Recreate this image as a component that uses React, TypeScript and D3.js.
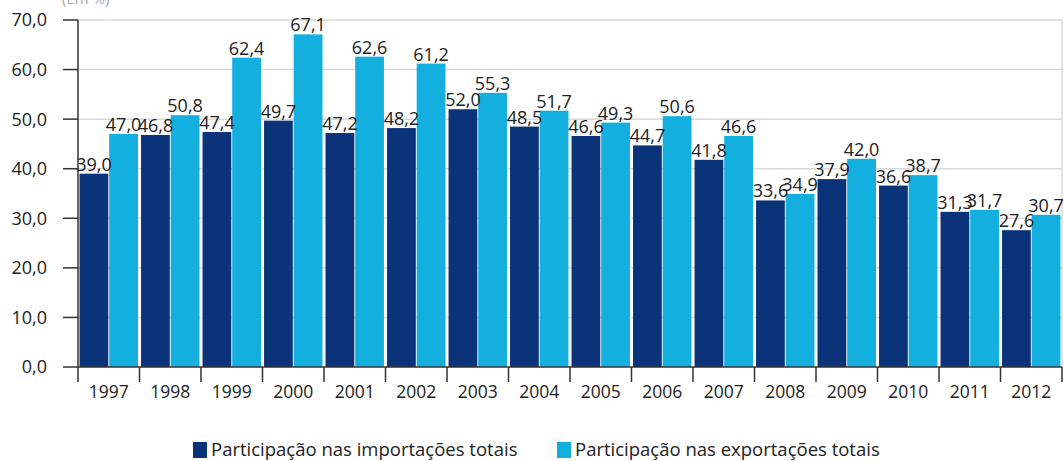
import React from "react";
import * as d3 from "d3";

const years = ["1997","1998","1999","2000","2001","2002","2003","2004","2005","2006","2007","2008","2009","2010","2011","2012"];
const imports = [39.0,46.8,47.4,49.7,47.2,48.2,52.0,48.5,46.6,44.7,41.8,33.6,37.9,36.6,31.3,27.6];
const exports = [47.0,50.8,62.4,67.1,62.6,61.2,55.3,51.7,49.3,50.6,46.6,34.9,42.0,38.7,31.7,30.7];
const yTicks = [0,10,20,30,40,50,60,70];
const seriesNames = ["Participação nas importações totais","Participação nas exportações totais"];
const colors = ["#0a337a","#13afde"];

const W = 1064, H = 461;
const left = 78, right = 1062, top = 20, bottom = 367;
const font = "'Open Sans', 'Noto Sans', sans-serif";

export default function App() {
  const x = d3.scaleBand<string>().domain(years).range([left, right]).paddingInner(0.05).paddingOuter(0.025);
  const xs = d3.scaleBand<number>().domain([0,1]).range([0, x.bandwidth()]).paddingInner(0.03);
  const y = d3.scaleLinear().domain([0,70]).range([bottom, top]);
  const fmt = (v: number) => v.toFixed(1).replace(".", ",");
  const step = (right - left) / years.length;
  const series = [imports, exports];
  return (
    <svg width={W} height={H} style={{position:"absolute", left:0, top:0, background:"#fff"}} fontFamily={font}>
      <text x={62} y={4} fontSize={15} fill="#aaa">(Em %)</text>
      {yTicks.map(t => (
        <g key={t}>
          {t > 0 && <line x1={left} x2={right} y1={y(t)} y2={y(t)} stroke="#d9d9d9" strokeWidth={1.5}/>}
          <line x1={63} x2={left} y1={y(t)} y2={y(t)} stroke="#333" strokeWidth={1.5}/>
          <text x={47} y={y(t)} dy="0.36em" textAnchor="end" fontSize={18} fill="#222">{fmt(t)}</text>
        </g>
      ))}
      <line x1={right} x2={right} y1={top} y2={bottom} stroke="#d9d9d9" strokeWidth={1.5}/>
      {years.map((yr, i) => (
        <g key={yr}>
          {series.map((s, k) => (
            <rect key={k} x={(x(yr) as number) + (xs(k) as number)} width={xs.bandwidth()} y={y(s[i])} height={bottom - y(s[i])} fill={colors[k]}/>
          ))}
        </g>
      ))}
      {years.map((yr, i) => (
        <g key={"l"+yr}>
          {series.map((s, k) => (
            <text key={k} x={(x(yr) as number) + (xs(k) as number) + xs.bandwidth()/2} y={y(s[i]) - 3} textAnchor="middle" fontSize={18} fill="#222">{fmt(s[i])}</text>
          ))}
        </g>
      ))}
      <line x1={left} x2={right} y1={bottom} y2={bottom} stroke="#333" strokeWidth={1.5}/>
      <line x1={left} x2={left} y1={top} y2={bottom} stroke="#333" strokeWidth={1.5}/>
      {d3.range(years.length + 1).map(i => (
        <line key={"t"+i} x1={left + i*step} x2={left + i*step} y1={bottom} y2={382} stroke="#333" strokeWidth={1.5}/>
      ))}
      {years.map(yr => (
        <text key={"x"+yr} x={(x(yr) as number) + x.bandwidth()/2} y={398} textAnchor="middle" fontSize={17.5} fill="#222">{yr}</text>
      ))}
      {seriesNames.map((n, k) => {
        const lx = k === 0 ? 193 : 557;
        return (
          <g key={n}>
            <rect x={lx} y={442} width={14} height={16} fill={colors[k]}/>
            <text x={lx + 18} y={456} fontSize={18.5} fill="#222">{n}</text>
          </g>
        );
      })}
    </svg>
  );
}
